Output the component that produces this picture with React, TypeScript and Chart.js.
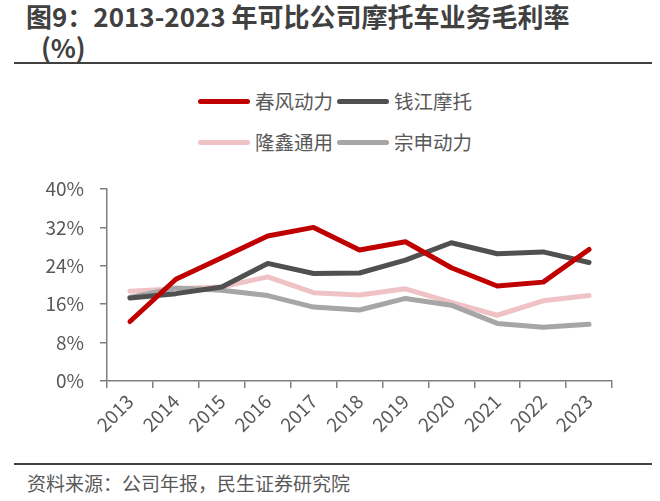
import { useEffect, useRef } from 'react'
import { Chart, ChartConfiguration, registerables } from 'chart.js'

Chart.register(...registerables)

const years = ['2013', '2014', '2015', '2016', '2017', '2018', '2019', '2020', '2021', '2022', '2023']
const chunfeng = [12.4, 21.2, 25.7, 30.2, 32.0, 27.3, 29.0, 23.6, 19.8, 20.6, 27.4]
const qianjiang = [17.3, 18.2, 19.6, 24.5, 22.4, 22.5, 25.2, 28.8, 26.5, 26.9, 24.7]
const longxin = [18.7, 19.2, 19.6, 21.7, 18.4, 17.9, 19.2, 16.4, 13.7, 16.7, 17.8]
const zongshen = [17.4, 19.4, 18.9, 17.8, 15.4, 14.8, 17.2, 15.8, 12.0, 11.2, 11.8]
const yTicks = [0, 8, 16, 24, 32, 40]

const FONT = '"Noto Sans CJK SC", "Noto Sans", sans-serif'
const axisColor = '#7f7f7f'
const labelColor = '#595959'

const series = [
  { label: '春风动力', data: chunfeng, color: '#c00000', order: 0 },
  { label: '钱江摩托', data: qianjiang, color: '#505050', order: 1 },
  { label: '隆鑫通用', data: longxin, color: '#efc3c5', order: 3 },
  { label: '宗申动力', data: zongshen, color: '#a6a6a6', order: 2 },
]

function LegendItem({ label, color }: { label: string; color: string }) {
  return (
    <div style={{ display: 'flex', alignItems: 'center' }}>
      <div style={{ width: 52, height: 5, borderRadius: 3, background: color }} />
      <span style={{ marginLeft: 5, fontSize: 19.5, color: labelColor, lineHeight: '24px' }}>{label}</span>
    </div>
  )
}

function MarginChart() {
  const canvasRef = useRef<HTMLCanvasElement>(null)
  const chartRef = useRef<Chart | null>(null)

  useEffect(() => {
    if (!canvasRef.current) return
    if (chartRef.current) chartRef.current.destroy()
    const ctx = canvasRef.current.getContext('2d')
    if (!ctx) return

    const config: ChartConfiguration = {
      type: 'line',
      data: {
        labels: years,
        datasets: series.map(s => ({
          label: s.label,
          data: s.data,
          borderColor: s.color,
          backgroundColor: s.color,
          borderWidth: 5,
          pointRadius: 0,
          tension: 0,
          order: s.order,
          borderCapStyle: 'round',
          borderJoinStyle: 'round',
        })),
      },
      options: {
        responsive: false,
        animation: false,
        layout: { padding: { top: 29, right: 48, left: 0, bottom: 0 } },
        plugins: {
          legend: { display: false },
          tooltip: { enabled: false },
        },
        scales: {
          x: {
            offset: true,
            grid: {
              display: true,
              offset: true,
              drawOnChartArea: false,
              drawTicks: true,
              tickLength: 7,
              color: axisColor,
              lineWidth: 1.5,
            },
            border: { display: true, color: axisColor, width: 1.5 },
            ticks: {
              autoSkip: false,
              maxRotation: 45,
              minRotation: 45,
              padding: 2,
              color: labelColor,
              font: { family: FONT, size: 19 },
            },
            afterFit: (scale: any) => { scale.height = 70 },
          },
          y: {
            min: 0,
            max: 40,
            afterBuildTicks: (scale: any) => { scale.ticks = yTicks.map(v => ({ value: v })) },
            grid: {
              display: true,
              drawOnChartArea: false,
              drawTicks: true,
              tickLength: 7,
              color: axisColor,
              lineWidth: 1.5,
            },
            border: { display: true, color: axisColor, width: 1.5 },
            ticks: {
              padding: 16,
              color: labelColor,
              font: { family: FONT, size: 19 },
              callback: (v: any) => v + '%',
            },
            afterFit: (scale: any) => { scale.width = 107 },
          },
        },
      },
    }

    chartRef.current = new Chart(ctx, config)
    return () => {
      if (chartRef.current) {
        chartRef.current.destroy()
        chartRef.current = null
      }
    }
  }, [])

  return (
    <div style={{ position: 'absolute', left: 0, top: 160, width: 660, height: 291 }}>
      <canvas ref={canvasRef} width={660} height={291} style={{ width: 660, height: 291 }} />
    </div>
  )
}

export default function App() {
  return (
    <div style={{ position: 'absolute', left: 0, top: 0, width: 660, height: 501, background: '#fff', fontFamily: FONT, overflow: 'hidden' }}>
      <div style={{ position: 'absolute', left: 26, top: 1, fontSize: 26, fontWeight: 700, color: '#404040', lineHeight: '30px', whiteSpace: 'nowrap' }}>
        图9：2013-2023 年可比公司摩托车业务毛利率
      </div>
      <div style={{ position: 'absolute', left: 41, top: 32, fontSize: 26, fontWeight: 700, color: '#404040', lineHeight: '30px' }}>
        (%)
      </div>
      <div style={{ position: 'absolute', left: 14, top: 62, width: 638, height: 2, background: '#404040' }} />

      <div style={{ position: 'absolute', left: 198, top: 89, display: 'flex', gap: 4 }}>
        <LegendItem label={series[0].label} color={series[0].color} />
        <LegendItem label={series[1].label} color={series[1].color} />
      </div>
      <div style={{ position: 'absolute', left: 198, top: 130, display: 'flex', gap: 4 }}>
        <LegendItem label={series[2].label} color={series[2].color} />
        <LegendItem label={series[3].label} color={series[3].color} />
      </div>

      <MarginChart />

      <div style={{ position: 'absolute', left: 14, top: 463, width: 638, height: 2, background: '#404040' }} />
      <div style={{ position: 'absolute', left: 27, top: 471, fontSize: 19, color: labelColor, lineHeight: '24px', whiteSpace: 'nowrap' }}>
        资料来源：公司年报，民生证券研究院
      </div>
    </div>
  )
}
